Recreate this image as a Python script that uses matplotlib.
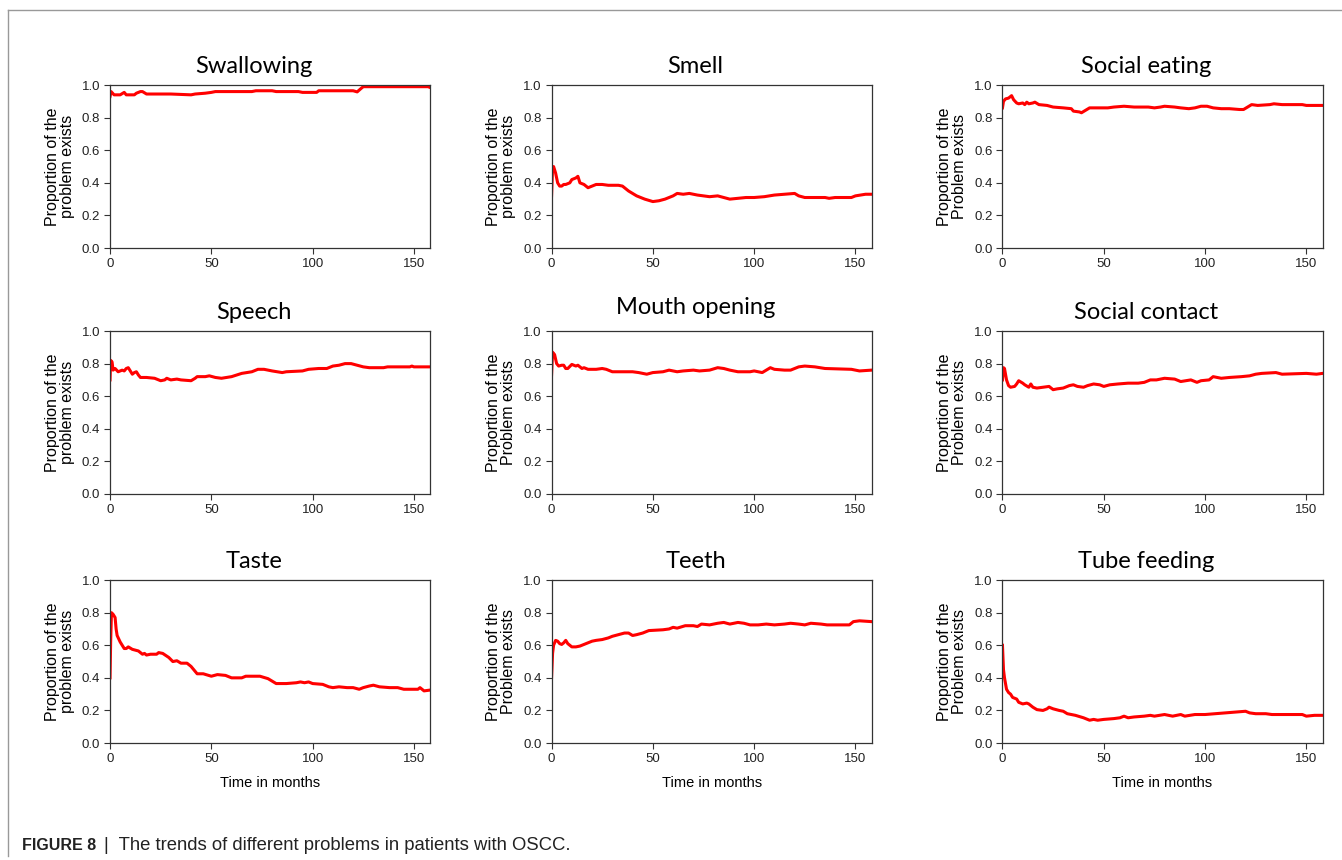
import matplotlib
matplotlib.use("Agg")
import matplotlib.pyplot as plt
from matplotlib.lines import Line2D

# months and proportions
swallow_t = [0, 0.5, 2, 5, 7, 8, 12, 13, 15, 16, 18, 30, 40, 42, 47, 50, 52, 60, 70, 72, 80, 82, 93, 95, 102, 103, 115, 120, 122, 124, 125, 140, 157, 158]
swallow_y = [0.93, 0.96, 0.94, 0.94, 0.955, 0.94, 0.94, 0.95, 0.96, 0.96, 0.945, 0.945, 0.94, 0.945, 0.95, 0.955, 0.96, 0.96, 0.96, 0.965, 0.965, 0.96, 0.96, 0.955, 0.955, 0.965, 0.965, 0.965, 0.958, 0.98, 0.99, 0.99, 0.99, 0.985]

smell_t = [0, 0.5, 1, 2, 3, 4, 5, 6, 7, 9, 10, 12, 13, 14, 16, 18, 20, 22, 25, 28, 33, 35, 38, 42, 46, 50, 53, 56, 60, 62, 65, 68, 72, 75, 78, 82, 85, 88, 92, 96, 100, 105, 110, 115, 120, 122, 125, 130, 135, 137, 140, 148, 150, 155, 158]
smell_y = [0.32, 0.49, 0.50, 0.46, 0.40, 0.38, 0.38, 0.39, 0.39, 0.40, 0.42, 0.43, 0.44, 0.40, 0.39, 0.37, 0.38, 0.39, 0.39, 0.385, 0.385, 0.38, 0.35, 0.32, 0.30, 0.285, 0.29, 0.30, 0.32, 0.335, 0.33, 0.335, 0.325, 0.32, 0.315, 0.32, 0.31, 0.30, 0.305, 0.31, 0.31, 0.315, 0.325, 0.33, 0.335, 0.32, 0.31, 0.31, 0.31, 0.305, 0.31, 0.31, 0.32, 0.33, 0.33]

eating_t = [0, 0.5, 1.5, 3, 4.5, 5.5, 7, 8, 10, 11, 12, 13, 15, 16, 18, 22, 25, 30, 34, 35, 38, 39, 41, 43, 47, 52, 55, 60, 65, 72, 75, 78, 80, 85, 88, 92, 95, 98, 101, 104, 108, 112, 117, 119, 121, 123, 126, 132, 134, 138, 148, 150, 158]
eating_y = [0.86, 0.90, 0.915, 0.92, 0.935, 0.91, 0.89, 0.885, 0.89, 0.88, 0.895, 0.885, 0.89, 0.895, 0.88, 0.875, 0.865, 0.86, 0.855, 0.84, 0.835, 0.83, 0.845, 0.86, 0.86, 0.86, 0.865, 0.87, 0.865, 0.865, 0.86, 0.865, 0.87, 0.865, 0.86, 0.855, 0.86, 0.87, 0.87, 0.86, 0.855, 0.855, 0.85, 0.85, 0.865, 0.88, 0.875, 0.88, 0.885, 0.88, 0.88, 0.875, 0.875]

speech_t = [0, 0.3, 1, 1.5, 2.5, 4, 6, 7, 8, 9, 10, 11, 12, 13, 14, 15, 18, 22, 25, 27, 28, 30, 33, 35, 40, 42, 43, 47, 49, 52, 55, 60, 65, 70, 73, 76, 80, 85, 87, 95, 98, 103, 107, 110, 113, 116, 119, 122, 125, 128, 135, 137, 148, 149, 150, 158]
speech_y = [0.70, 0.82, 0.81, 0.76, 0.77, 0.75, 0.76, 0.755, 0.77, 0.775, 0.755, 0.735, 0.745, 0.75, 0.73, 0.715, 0.715, 0.71, 0.695, 0.70, 0.71, 0.70, 0.705, 0.70, 0.695, 0.71, 0.72, 0.72, 0.725, 0.715, 0.71, 0.72, 0.74, 0.75, 0.765, 0.765, 0.755, 0.745, 0.75, 0.755, 0.765, 0.77, 0.77, 0.785, 0.79, 0.80, 0.80, 0.79, 0.78, 0.775, 0.775, 0.78, 0.78, 0.785, 0.78, 0.78]

mouth_t = [0, 0.5, 1.5, 2.5, 3.5, 5, 6, 7, 8, 10, 12, 13, 15, 16, 18, 22, 25, 27, 30, 35, 40, 43, 45, 47, 50, 55, 58, 62, 65, 70, 73, 78, 82, 85, 88, 92, 98, 100, 104, 108, 110, 115, 118, 122, 125, 130, 135, 148, 152, 158]
mouth_y = [0.73, 0.87, 0.855, 0.80, 0.785, 0.79, 0.79, 0.77, 0.77, 0.795, 0.785, 0.79, 0.77, 0.775, 0.765, 0.765, 0.77, 0.765, 0.75, 0.75, 0.75, 0.745, 0.74, 0.735, 0.745, 0.75, 0.76, 0.75, 0.755, 0.76, 0.755, 0.76, 0.775, 0.77, 0.76, 0.75, 0.75, 0.755, 0.745, 0.775, 0.765, 0.76, 0.76, 0.78, 0.785, 0.78, 0.77, 0.765, 0.755, 0.76]

contact_t = [0, 0.5, 1, 2, 3, 4, 6, 7, 8, 10, 11, 13, 14, 15, 17, 20, 23, 25, 27, 30, 33, 35, 37, 40, 42, 45, 48, 50, 53, 57, 62, 67, 70, 73, 76, 80, 85, 88, 93, 96, 98, 102, 104, 108, 112, 118, 122, 125, 128, 135, 138, 150, 155, 158]
contact_y = [0.70, 0.775, 0.77, 0.70, 0.665, 0.655, 0.66, 0.675, 0.695, 0.68, 0.67, 0.655, 0.675, 0.655, 0.65, 0.655, 0.66, 0.64, 0.645, 0.65, 0.665, 0.67, 0.66, 0.655, 0.665, 0.675, 0.67, 0.66, 0.67, 0.675, 0.68, 0.68, 0.685, 0.70, 0.70, 0.71, 0.705, 0.69, 0.70, 0.685, 0.695, 0.70, 0.72, 0.71, 0.715, 0.72, 0.725, 0.735, 0.74, 0.745, 0.735, 0.74, 0.735, 0.74]

taste_t = [0, 0.3, 0.7, 1.5, 2.5, 3, 3.5, 5, 6, 7, 8, 9, 11, 14, 16, 17, 18, 20, 23, 24, 26, 29, 31, 33, 35, 38, 40, 42, 43, 46, 50, 53, 57, 60, 65, 67, 74, 78, 80, 82, 87, 92, 94, 96, 98, 100, 105, 108, 110, 113, 117, 120, 123, 125, 128, 130, 133, 138, 142, 145, 152, 153, 155, 158]
taste_y = [0.40, 0.62, 0.80, 0.79, 0.77, 0.70, 0.66, 0.62, 0.60, 0.58, 0.58, 0.59, 0.575, 0.565, 0.545, 0.55, 0.54, 0.545, 0.545, 0.555, 0.55, 0.525, 0.50, 0.505, 0.49, 0.49, 0.47, 0.44, 0.425, 0.425, 0.41, 0.42, 0.415, 0.40, 0.40, 0.41, 0.41, 0.395, 0.38, 0.365, 0.365, 0.37, 0.375, 0.37, 0.375, 0.365, 0.36, 0.345, 0.34, 0.345, 0.34, 0.34, 0.33, 0.34, 0.35, 0.355, 0.345, 0.34, 0.34, 0.33, 0.33, 0.34, 0.32, 0.325]

teeth_t = [0, 0.5, 1, 2, 3, 4, 5, 6, 7, 8, 10, 12, 14, 16, 18, 20, 22, 25, 28, 30, 33, 36, 38, 40, 42, 45, 48, 55, 58, 60, 62, 66, 70, 72, 74, 78, 82, 85, 88, 92, 95, 98, 102, 106, 110, 115, 118, 122, 125, 128, 133, 136, 140, 147, 149, 152, 158]
teeth_y = [0.40, 0.55, 0.60, 0.63, 0.625, 0.61, 0.605, 0.615, 0.63, 0.61, 0.59, 0.59, 0.595, 0.605, 0.615, 0.625, 0.63, 0.635, 0.645, 0.655, 0.665, 0.675, 0.675, 0.66, 0.665, 0.675, 0.69, 0.695, 0.70, 0.71, 0.705, 0.72, 0.72, 0.715, 0.73, 0.725, 0.735, 0.74, 0.73, 0.74, 0.735, 0.725, 0.725, 0.73, 0.725, 0.73, 0.735, 0.73, 0.725, 0.735, 0.73, 0.725, 0.725, 0.725, 0.745, 0.75, 0.745]

tube_t = [0, 0.5, 1, 2, 3, 4, 5, 7, 8, 10, 12, 13, 15, 17, 20, 22, 23, 25, 28, 30, 32, 36, 40, 43, 45, 47, 50, 55, 58, 60, 62, 65, 70, 73, 75, 80, 84, 88, 90, 95, 100, 105, 110, 115, 120, 122, 125, 130, 133, 140, 148, 150, 154, 158]
tube_y = [0.60, 0.45, 0.40, 0.33, 0.31, 0.30, 0.28, 0.27, 0.25, 0.24, 0.245, 0.24, 0.22, 0.205, 0.20, 0.21, 0.22, 0.21, 0.20, 0.195, 0.18, 0.17, 0.155, 0.14, 0.145, 0.14, 0.145, 0.15, 0.155, 0.165, 0.155, 0.16, 0.165, 0.17, 0.165, 0.175, 0.165, 0.175, 0.165, 0.175, 0.175, 0.18, 0.185, 0.19, 0.195, 0.185, 0.18, 0.18, 0.175, 0.175, 0.175, 0.165, 0.17, 0.17]

titles = ["Swallowing", "Smell", "Social eating",
          "Speech", "Mouth opening", "Social contact",
          "Taste", "Teeth", "Tube feeding"]
series = [(swallow_t, swallow_y), (smell_t, smell_y), (eating_t, eating_y),
          (speech_t, speech_y), (mouth_t, mouth_y), (contact_t, contact_y),
          (taste_t, taste_y), (teeth_t, teeth_y), (tube_t, tube_y)]
ylabels = ["Proportion of the\nproblem exists", "Proportion of the\nproblem exists", "Proportion of the\nProblem exists",
           "Proportion of the\nproblem exists", "Proportion of the\nProblem exists", "Proportion of the\nProblem exists",
           "Proportion of the\nproblem exists", "Proportion of the\nProblem exists", "Proportion of the\nProblem exists"]

fig = plt.figure(figsize=(13.42, 8.6), dpi=100)

lefts = [0.082, 0.411, 0.747]
bottoms = [0.7116, 0.4256, 0.136]
w, h = 0.2385, 0.1895

for i, (title, (t, y), yl) in enumerate(zip(titles, series, ylabels)):
    r, c = divmod(i, 3)
    ax = fig.add_axes([lefts[c], bottoms[r], w, h])
    ax.plot(t, y, color="#ff0000", lw=2.2)
    ax.set_xlim(0, 158)
    ax.set_ylim(0, 1.0)
    ax.set_xticks([0, 50, 100, 150])
    ax.set_yticks([0, 0.2, 0.4, 0.6, 0.8, 1.0])
    ax.set_yticklabels(["0.0", "0.2", "0.4", "0.6", "0.8", "1.0"])
    ax.tick_params(labelsize=9.5, length=4, width=0.8, colors="#333333",
                   labelcolor="#222222", pad=3)
    for s in ax.spines.values():
        s.set_color("#333333")
        s.set_linewidth(0.9)
    ax.set_ylabel(yl, fontsize=11.5, family="Liberation Sans", labelpad=5, linespacing=1.0)
    ty = 1.145 if title == "Mouth opening" else 1.115
    ax.text(0.45, ty, title, transform=ax.transAxes, ha="center", va="center",
            fontsize=17, family="Lato")
    if r == 2:
        ax.set_xlabel("Time in months", fontsize=10.5, family="Liberation Sans", labelpad=8)
    for lab in ax.get_xticklabels() + ax.get_yticklabels():
        lab.set_family("Liberation Sans")

# page frame lines
fig.add_artist(Line2D([8 / 1342, 1.0], [1 - 10 / 860, 1 - 10 / 860], color="#999999", lw=1))
fig.add_artist(Line2D([8 / 1342, 8 / 1342], [1 - 10 / 860, 1 - 856 / 860], color="#999999", lw=1))

fig.text(22 / 1342, 1 - 846 / 860, "FIGURE 8", fontsize=11.5, fontweight="bold",
         family="Liberation Sans", va="center", color="#222222")
fig.text(104 / 1342, 1 - 846 / 860, "|  The trends of different problems in patients with OSCC.",
         fontsize=13.3, family="Liberation Sans", va="center", color="#222222")

fig.savefig("out.png", dpi=100)
